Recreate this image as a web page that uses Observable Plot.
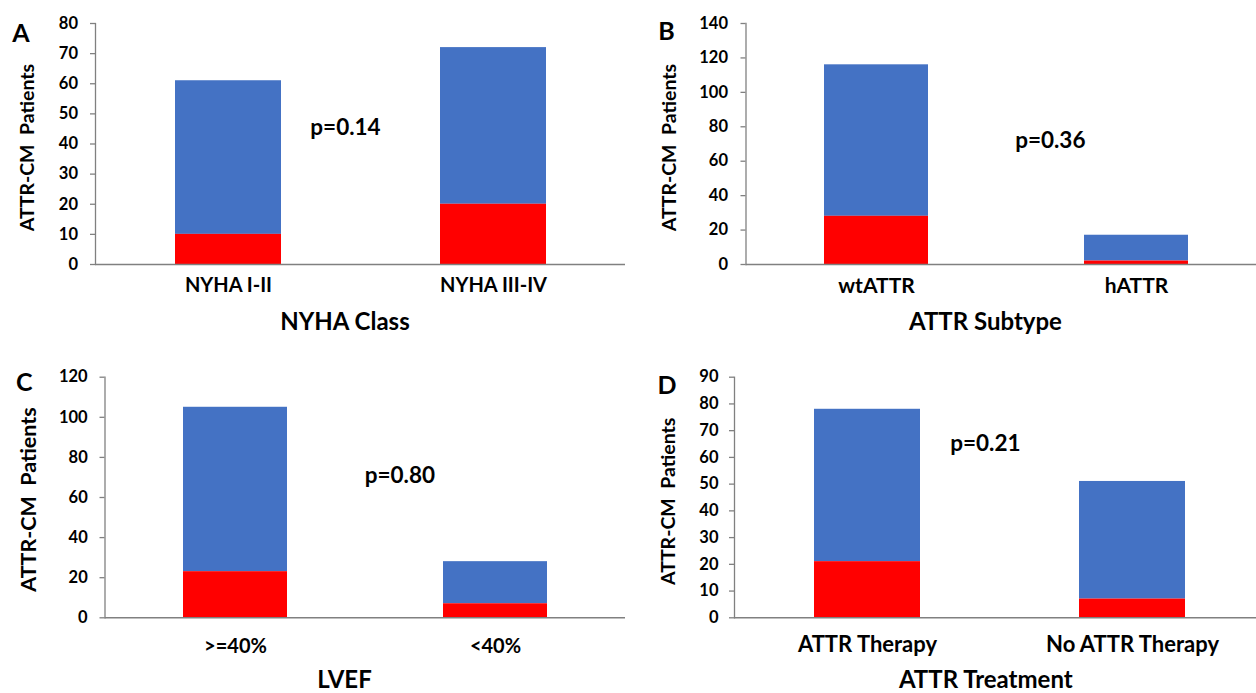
<!DOCTYPE html>
<html>
<head>
<meta charset="utf-8">
<script src="https://cdn.jsdelivr.net/npm/d3@7"></script>
<script src="https://cdn.jsdelivr.net/npm/@observablehq/plot@0.6"></script>
<style>
  html, body { margin: 0; padding: 0; background: #ffffff; }
  #chart { position: relative; width: 1256px; height: 693px; overflow: hidden; background: #ffffff; }
  #chart > div, #chart > svg { position: absolute; }
</style>
</head>
<body>
<div id="chart"></div>
<script>
// ---- Data ----
const nyhaCategories = ["NYHA I-II", "NYHA III-IV"];
const nyhaRed = [10, 20];
const nyhaTotal = [61, 72];
const nyhaTicks = [0, 10, 20, 30, 40, 50, 60, 70, 80];

const subtypeCategories = ["wtATTR", "hATTR"];
const subtypeRed = [28, 2];
const subtypeTotal = [116, 17];
const subtypeTicks = [0, 20, 40, 60, 80, 100, 120, 140];

const lvefCategories = [">=40%", "<40%"];
const lvefRed = [23, 7];
const lvefTotal = [105, 28];
const lvefTicks = [0, 20, 40, 60, 80, 100, 120];

const treatmentCategories = ["ATTR Therapy", "No ATTR Therapy"];
const treatmentRed = [21, 7];
const treatmentTotal = [78, 51];
const treatmentTicks = [0, 10, 20, 30, 40, 50, 60, 70, 80, 90];

const panelLetters = ["A", "B", "C", "D"];
const pValues = ["p=0.14", "p=0.36", "p=0.80", "p=0.21"];
const xTitles = ["NYHA Class", "ATTR Subtype", "LVEF", "ATTR Treatment"];
const yTitle = "ATTR-CM\u00a0 Patients";

// ---- Layout (pixel positions and font sizes within each panel) ----
const layouts = [
  {left: 0,   top: 0,   w: 628, h: 346, axisX: 95,    axisRight: 625, plotTop: 23,   zero: 264,   bandEnd: 625, yTickPad: 12.5, xTickPad: 13.5, xFont: 20, yLabFont: 19.5,
   p: [345, 127],    title: [344.5, 322],   yLab: [27.7, 147],   letter: [20.4, 33.5]},
  {left: 630, top: 0,   w: 626, h: 346, axisX: 115.5, axisRight: 626, plotTop: 23,   zero: 264,   bandEnd: 637, yTickPad: 13,   xTickPad: 13.5, xFont: 21, yLabFont: 19.5,
   p: [419.8, 140],  title: [354.9, 322],   yLab: [39, 147],     letter: [35.9, 31.5]},
  {left: 0,   top: 350, w: 628, h: 343, axisX: 104.5, axisRight: 625, plotTop: 26.7, zero: 267.3, bandEnd: 625, yTickPad: 12.3, xTickPad: 20.5, xFont: 20, yLabFont: 21.5,
   p: [399.4, 125],  title: [344, 329.5],   yLab: [28.5, 149],   letter: [23.7, 32]},
  {left: 630, top: 350, w: 626, h: 343, axisX: 104,   axisRight: 626, plotTop: 26.7, zero: 267.3, bandEnd: 635, yTickPad: 11,   xTickPad: 19,   xFont: 22, yLabFont: 19.5,
   p: [354.9, 93.3], title: [355.3, 329.5], yLab: [37.9, 150.8], letter: [36.5, 35]}
];

const panels = [
  {cats: nyhaCategories, red: nyhaRed, total: nyhaTotal, ticks: nyhaTicks},
  {cats: subtypeCategories, red: subtypeRed, total: subtypeTotal, ticks: subtypeTicks},
  {cats: lvefCategories, red: lvefRed, total: lvefTotal, ticks: lvefTicks},
  {cats: treatmentCategories, red: treatmentRed, total: treatmentTotal, ticks: treatmentTicks}
];

const BLUE = "#4472C4";
const RED = "#FF0000";
const AXIS = "#808080";
const FONT = "Lato, 'Open Sans', sans-serif";

function makePanel(i) {
  const cfg = panels[i];
  const L = layouts[i];
  const rows = cfg.cats.map((c, k) => ({cat: c, red: cfg.red[k], total: cfg.total[k]}));
  const ymax = cfg.ticks[cfg.ticks.length - 1];
  const label = (txt, pos, opts = {}) => Plot.text([txt], {
    text: d => d,
    frameAnchor: "top-left",
    textAnchor: "middle",
    lineAnchor: "middle",
    dx: pos[0] - L.axisX,
    dy: pos[1] - L.plotTop,
    fontWeight: "bold",
    fill: "#000",
    ...opts
  });
  const svg = Plot.plot({
    width: L.w,
    height: L.h,
    marginLeft: L.axisX,
    marginRight: L.w - L.axisRight,
    marginTop: L.plotTop,
    marginBottom: L.h - L.zero,
    style: {fontFamily: FONT, background: "transparent", overflow: "visible"},
    x: {type: "band", domain: cfg.cats, range: [L.axisX, L.bandEnd], paddingInner: 0.6, paddingOuter: 0.3, axis: null},
    y: {domain: [0, ymax], axis: null},
    marks: [
      Plot.barY(rows, {x: "cat", y1: "red", y2: "total", fill: BLUE}),
      Plot.barY(rows, {x: "cat", y1: 0, y2: "red", fill: RED}),
      Plot.axisY({ticks: cfg.ticks, tickSize: 5, tickPadding: L.yTickPad, stroke: AXIS, strokeWidth: 1.3,
                  fill: "#000", fontSize: 16.5, fontWeight: "bold", label: null, tickFormat: d => String(d)}),
      Plot.axisX({tickSize: 0, tickPadding: L.xTickPad, fill: "#000", fontSize: L.xFont, fontWeight: "bold", label: null}),
      Plot.frame({anchor: "left", stroke: AXIS, strokeWidth: 1.3}),
      Plot.ruleY([0], {stroke: AXIS, strokeWidth: 1.5}),
      label(pValues[i], L.p, {fontSize: 22.5}),
      label(xTitles[i], L.title, {fontSize: 24}),
      label(yTitle, L.yLab, {fontSize: L.yLabFont, rotate: -90}),
      label(panelLetters[i], L.letter, {fontSize: 25})
    ]
  });
  svg.style.left = L.left + "px";
  svg.style.top = L.top + "px";
  return svg;
}

const chart = document.getElementById("chart");
for (let i = 0; i < panels.length; i++) chart.appendChild(makePanel(i));
</script>
</body>
</html>
